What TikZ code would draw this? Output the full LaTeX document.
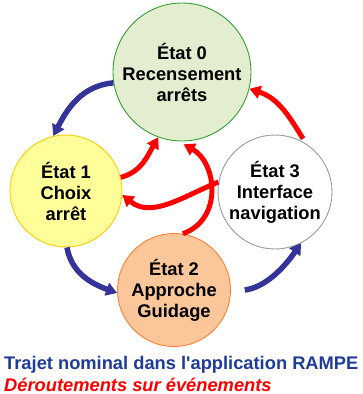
\documentclass[tikz,border=0pt]{standalone}
\usepackage{fontspec}
\setmainfont{Liberation Sans}
\usetikzlibrary{arrows.meta}
\definecolor{etatvert}{HTML}{E3EDCF}
\definecolor{bordvert}{HTML}{33A033}
\definecolor{etatjaune}{HTML}{FFFF99}
\definecolor{bordjaune}{HTML}{FFCC00}
\definecolor{etatorange}{HTML}{FBC79A}
\definecolor{bordorange}{HTML}{FF8033}
\definecolor{bordgris}{HTML}{999999}
\definecolor{trajetbleu}{HTML}{333399}
\definecolor{legendebleu}{HTML}{1F3C99}

\begin{document}
\begin{tikzpicture}[x=1pt, y=1pt,
  etat/.style={circle, draw, line width=0.9pt, align=center, inner sep=0pt,
               font=\fontsize{18.3}{21}\selectfont\bfseries},
  legende/.style={anchor=west, inner sep=0pt,
                  font=\fontsize{18.3}{21}\selectfont\bfseries},
  nominal/.style={-{Triangle[length=11pt,width=13pt]}, line width=5.5pt,
                  draw=trajetbleu},
  deroute/.style={-{Triangle[length=11pt,width=13pt]}, line width=5pt,
                  draw=red}
]
\useasboundingbox (0,0) rectangle (362,-394);

\node[etat, fill=etatvert, draw=bordvert, minimum size=138pt] (e0)
      at (182,-72) {État 0\\Recensement\\arrêts};
\node[etat, fill=etatjaune, draw=bordjaune, minimum size=112pt] (e1)
      at (66,-191) {État 1\\Choix\\arrêt};
\node[etat, fill=etatorange, draw=bordorange, minimum size=113pt] (e2)
      at (174,-290) {État 2\\Approche\\Guidage};
\node[etat, fill=white, draw=bordgris, minimum size=114pt] (e3)
      at (275,-192) {État 3\\Interface\\navigation};

% trajet nominal
\draw[nominal] (e0.189) to[out=185, in=63] (e1.103);
\draw[nominal] (e1.271) to[out=280, in=160] (e2.183);
\draw[nominal, shorten <=14pt] (e2.358) to[out=8, in=235] (e3.297);

% deroutements
\draw[deroute] (e1.14) to[out=15, in=240] (e0.250);
\draw[deroute] (e3.170) to[out=202, in=321] (e1.356);
\draw[deroute, shorten >=6pt] (e2.81) to[out=20, in=331, looseness=1.2] (e0.267);
\draw[deroute, shorten <=6pt] (e3.57) to[out=122, in=342] (e0.346);

\node[legende, text=legendebleu] (nominaltxt) at (4,-365)
      {Trajet nominal dans l\textquotesingle application RAMPE};
\node[legende, text=red, font=\fontsize{18.3}{21}\selectfont\bfseries\itshape]
      (deroutetxt) at (4,-384.5) {Déroutements sur événements};
\end{tikzpicture}
\end{document}
